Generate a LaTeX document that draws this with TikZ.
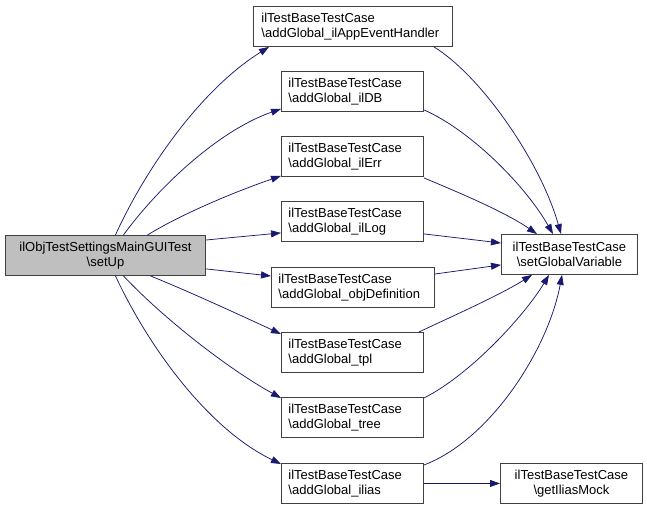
\documentclass[tikz,border=0pt]{standalone}
\usepackage{fontspec}
\setmainfont{Liberation Sans}
\usetikzlibrary{arrows.meta}
\definecolor{edgeblue}{HTML}{191970}
\definecolor{rootfill}{HTML}{BFBFBF}
\definecolor{boxline}{HTML}{404040}
\begin{document}
\begin{tikzpicture}[x=1pt,y=-1pt,
  font=\fontsize{13}{14.5}\selectfont,
  box/.style={draw=boxline, line width=0.9pt, fill=white, rectangle, inner xsep=0pt, inner ysep=0pt, anchor=north west},
  leftbox/.style={box, align=left},
  centbox/.style={box, align=center},
  edge/.style={draw=edgeblue, line width=0.75pt, -{Triangle[length=10pt,width=7pt]}}
]
\useasboundingbox (0,0) rectangle (647,509);
% root
\node[centbox, fill=rootfill, minimum width=200, minimum height=40, text width=200] (root) at (5,235) {ilObjTestSettingsMainGUITest\\\textbackslash setUp};
% middle column
\node[leftbox, minimum width=199, minimum height=40, text width=183] (app) at (253,6) {ilTestBaseTestCase\\\textbackslash addGlobal\_ilAppEventHandler};
\node[leftbox, minimum width=142, minimum height=40, text width=128] (db) at (281,71) {ilTestBaseTestCase\\\textbackslash addGlobal\_ilDB};
\node[leftbox, minimum width=142, minimum height=40, text width=128] (err) at (281,136) {ilTestBaseTestCase\\\textbackslash addGlobal\_ilErr};
\node[leftbox, minimum width=142, minimum height=40, text width=128] (log) at (281,201) {ilTestBaseTestCase\\\textbackslash addGlobal\_ilLog};
\node[leftbox, minimum width=163, minimum height=40, text width=149] (obj) at (271,267) {ilTestBaseTestCase\\\textbackslash addGlobal\_objDefinition};
\node[leftbox, minimum width=142, minimum height=40, text width=128] (tpl) at (281,332) {ilTestBaseTestCase\\\textbackslash addGlobal\_tpl};
\node[leftbox, minimum width=142, minimum height=40, text width=128] (tree) at (281,397) {ilTestBaseTestCase\\\textbackslash addGlobal\_tree};
\node[leftbox, minimum width=142, minimum height=40, text width=128] (ilias) at (281,463) {ilTestBaseTestCase\\\textbackslash addGlobal\_ilias};
% right column
\node[centbox, minimum width=136, minimum height=40, text width=136] (setv) at (501,234) {ilTestBaseTestCase\\\textbackslash setGlobalVariable};
\node[centbox, minimum width=142, minimum height=40, text width=142] (mock) at (500,463) {ilTestBaseTestCase\\\textbackslash getIliasMock};
% root edges (yshift is in canvas units: positive = up)
\draw[edge] ([xshift=10]root.north) .. controls (145,170) and (200,90) .. ([xshift=16]app.south west);
\draw[edge] ([xshift=18]root.north) .. controls (160,185) and (220,130) .. ([yshift=3]db.south west);
\draw[edge] ([xshift=42]root.north) .. controls (185,212) and (240,190) .. ([yshift=1]err.south west);
\draw[edge] ([yshift=-5]root.north east) -- ([yshift=9]log.south west);
\draw[edge] ([yshift=7]root.south east) -- ([yshift=-9]obj.north west);
\draw[edge] ([xshift=45]root.south) .. controls (190,292) and (240,315) .. ([yshift=-2]tpl.north west);
\draw[edge] ([xshift=18]root.south) .. controls (165,320) and (230,370) .. ([yshift=-1]tree.north west);
\draw[edge] ([xshift=10]root.south) .. controls (150,350) and (210,430) .. ([yshift=-1]ilias.north west);
% to setGlobalVariable
\draw[edge] ([xshift=-19]app.south east) .. controls (480,75) and (540,160) .. ([xshift=60]setv.north west);
\draw[edge] ([yshift=2]db.south east) .. controls (470,130) and (525,185) .. ([xshift=52]setv.north west);
\draw[edge] ([yshift=-1]err.south east) .. controls (460,193) and (505,212) .. ([xshift=36]setv.north west);
\draw[edge] ([yshift=8]log.south east) -- ([yshift=-9]setv.north west);
\draw[edge] ([yshift=-7]obj.north east) -- ([yshift=10]setv.south west);
\draw[edge] ([xshift=-5]tpl.north east) .. controls (455,315) and (500,295) .. ([xshift=31]setv.south west);
\draw[edge] ([yshift=-1]tree.north east) .. controls (470,375) and (525,315) .. ([xshift=48]setv.south west);
\draw[edge] ([yshift=-2]ilias.north east) .. controls (490,440) and (548,350) .. ([xshift=61]setv.south west);
\draw[edge] (ilias.east) -- (mock.west);
\end{tikzpicture}
\end{document}
